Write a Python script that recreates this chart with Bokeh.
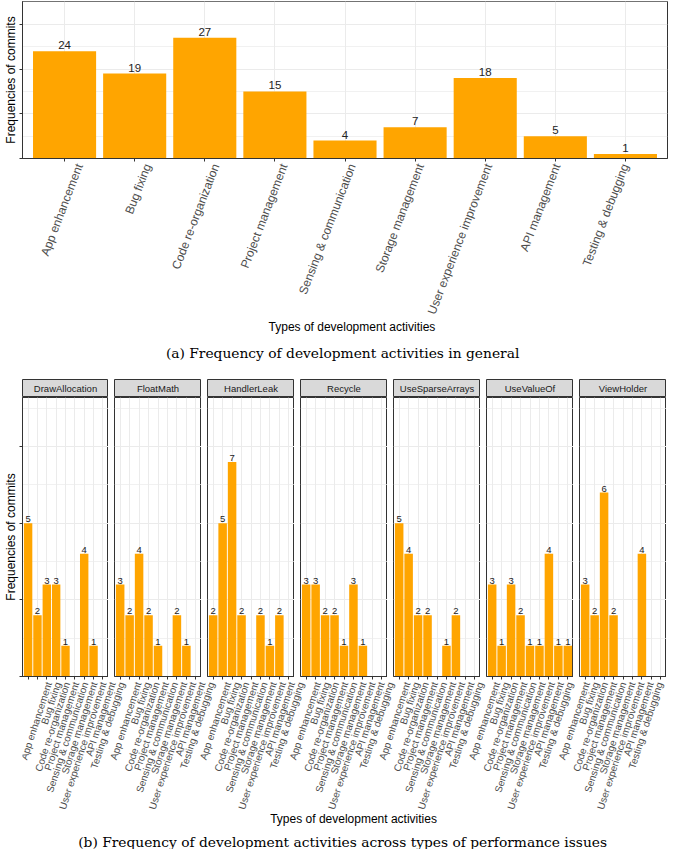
import math
from bokeh.plotting import figure
from bokeh.models import Range1d, FixedTicker, ColumnDataSource
from bokeh.layouts import column, row
from bokeh.embed import file_html
from bokeh.resources import INLINE
from bokeh.core.properties import value

# ---------------- data ----------------
categories = ["App enhancement", "Bug fixing", "Code re-organization", "Project management",
              "Sensing & communication", "Storage management", "User experience improvement",
              "API management", "Testing & debugging"]
general_counts = [24, 19, 27, 15, 4, 7, 18, 5, 1]

issue_types = ["DrawAllocation", "FloatMath", "HandlerLeak", "Recycle",
               "UseSparseArrays", "UseValueOf", "ViewHolder"]
draw_allocation = [5, 2, 3, 3, 1, 0, 4, 1, 0]
float_math = [3, 2, 4, 2, 1, 0, 2, 1, 0]
handler_leak = [2, 5, 7, 2, 0, 2, 1, 2, 0]
recycle = [3, 3, 2, 2, 1, 3, 1, 0, 0]
use_sparse_arrays = [5, 4, 2, 2, 0, 1, 2, 0, 0]
use_value_of = [3, 1, 3, 2, 1, 1, 4, 1, 1]
view_holder = [3, 2, 6, 2, 0, 0, 4, 0, 0]
facet_counts = [draw_allocation, float_math, handler_leak, recycle,
                use_sparse_arrays, use_value_of, view_holder]

caption_a = "(a) Frequency of development activities in general"
caption_b = "(b) Frequency of development activities across types of performance issues"
x_title = "Types of development activities"
y_title = "Frequencies of commits"

# ---------------- style / layout constants ----------------
ORANGE = "#FFA500"
GRID = "#EBEBEB"
DARK = "#333333"
TICK_TXT = "#4D4D4D"
SANS = "Liberation Sans"
SERIF = "DejaVu Serif"
CAPTION_SIZE = "13.8px"
TOTAL_W = 669
TOTAL_H = 849
X_LO, X_HI = 0.4, 9.6
positions = list(range(1, len(categories) + 1))


def bar_source(counts):
    xs = [positions[i] for i, v in enumerate(counts) if v > 0]
    ys = [v for v in counts if v > 0]
    return ColumnDataSource(dict(x=xs, top=ys, label=[str(v) for v in ys]))


def style_axes(p, ymajor, yminor, show_y):
    p.xaxis.ticker = FixedTicker(ticks=positions)
    p.xaxis.major_label_text_color = None
    p.xaxis.major_label_text_font_size = "1px"
    p.xaxis.major_label_standoff = 0
    p.xaxis.minor_tick_line_color = None
    p.xaxis.major_tick_in = 0
    p.xaxis.major_tick_out = 3
    p.xaxis.axis_line_color = DARK
    p.xaxis.major_tick_line_color = DARK
    p.xgrid.ticker = FixedTicker(ticks=positions)
    p.xgrid.grid_line_color = GRID
    p.ygrid.ticker = FixedTicker(ticks=ymajor, minor_ticks=yminor)
    p.ygrid.grid_line_color = GRID
    p.ygrid.minor_grid_line_color = GRID
    p.ygrid.minor_grid_line_width = 0.7
    p.yaxis.ticker = FixedTicker(ticks=ymajor)
    p.yaxis.minor_tick_line_color = None
    p.yaxis.major_label_text_color = None
    p.yaxis.major_label_text_font_size = "1px"
    p.yaxis.major_label_standoff = 0
    p.yaxis.major_tick_in = 0
    p.yaxis.major_tick_out = 3
    p.yaxis.axis_line_color = DARK
    p.yaxis.major_tick_line_color = DARK
    if show_y:
        p.yaxis.axis_label = y_title
        p.yaxis.axis_label_text_font = SANS
        p.yaxis.axis_label_text_font_size = "12px"
        p.yaxis.axis_label_text_font_style = "normal"
        p.yaxis.axis_label_text_color = "black"
        p.yaxis.axis_label_standoff = 2
    else:
        p.yaxis.visible = False
    p.outline_line_color = DARK
    p.outline_line_width = 1
    p.background_fill_color = "white"


def blank_fig(width, height):
    f = figure(width=width, height=height, x_range=Range1d(0, width), y_range=Range1d(-height, 0),
               output_backend="svg", toolbar_location=None,
               min_border_left=0, min_border_right=0, min_border_top=0, min_border_bottom=0)
    f.axis.visible = False
    f.grid.visible = False
    f.outline_line_color = None
    return f


def add_text(f, x, y, txt, font, size, color="black"):
    f.text(x=[x], y=[y], text=[txt], text_align="center", text_baseline="middle",
           text_font=value(font), text_font_size=size, text_color=color)


def add_tick_labels(f, frame_lefts, frame_w, y, angle, size):
    lx, lt = [], []
    for fl in frame_lefts:
        for pos, cat in zip(positions, categories):
            lx.append(fl + (pos - X_LO) / (X_HI - X_LO) * frame_w + 0.5)
            lt.append(cat)
    f.text(x=lx, y=[y] * len(lx), text=lt, angle=math.radians(angle),
           text_align="right", text_baseline="middle", text_font=value(SANS),
           text_font_size=size, text_color=TICK_TXT)


# ---------------- top chart (a) ----------------
TOP_LEFT = 16
TOP_FRAME_W = 651
TOP_FRAME_H = 157
AXIS_PAD = 4
top_h = 1 + TOP_FRAME_H + AXIS_PAD
top = figure(width=TOTAL_W, height=top_h, x_range=Range1d(X_LO, X_HI), y_range=Range1d(0, 35.1),
             output_backend="svg", toolbar_location=None,
             min_border_left=TOP_LEFT, min_border_right=TOTAL_W - TOP_LEFT - TOP_FRAME_W,
             min_border_top=1, min_border_bottom=AXIS_PAD)
src = bar_source(general_counts)
top.vbar(x="x", top="top", width=0.9, source=src, fill_color=ORANGE, line_color=None)
top.text(x="x", y="top", text="label", source=src, text_align="center",
         text_baseline="bottom", y_offset=-2, text_font=value(SANS),
         text_font_size="11.5px", text_color="#222222")
style_axes(top, [0, 10, 20, 30], [5, 15, 25, 35], True)

STRIP_TOP = 378
FA_H = STRIP_TOP - top_h
footer_a = blank_fig(TOTAL_W, FA_H)
add_tick_labels(footer_a, [TOP_LEFT], TOP_FRAME_W, -1.8, 69, "12px")
add_text(footer_a, 341.7, -(326.6 - top_h), x_title, SANS, "12px")
add_text(footer_a, 332, -(352.4 - top_h), caption_a, SERIF, CAPTION_SIZE)

# ---------------- facets (b) ----------------
FRAME_W = 87
FRAME_H = 279
STRIP_H = 19
GAP = 6
FIRST_LEFT = 21
cols = []
for i, (name, counts) in enumerate(zip(issue_types, facet_counts)):
    left = FIRST_LEFT if i == 0 else GAP
    strip = figure(width=left + FRAME_W, height=STRIP_H, x_range=Range1d(0, 1), y_range=Range1d(0, 1),
                   output_backend="svg", toolbar_location=None,
                   min_border_left=left, min_border_right=0, min_border_top=1, min_border_bottom=0)
    strip.axis.visible = False
    strip.grid.visible = False
    strip.background_fill_color = "#D9D9D9"
    strip.outline_line_color = DARK
    strip.text(x=[0.5], y=[0.5], text=[name], text_align="center", text_baseline="middle",
               text_font=value(SANS), text_font_size="9.5px", text_color="#1A1A1A")

    p = figure(width=left + FRAME_W, height=FRAME_H + AXIS_PAD,
               x_range=Range1d(X_LO, X_HI), y_range=Range1d(0, 9.1),
               output_backend="svg", toolbar_location=None,
               min_border_left=left, min_border_right=0, min_border_top=0,
               min_border_bottom=AXIS_PAD)
    s = bar_source(counts)
    p.vbar(x="x", top="top", width=0.9, source=s, fill_color=ORANGE, line_color=None)
    p.text(x="x", y="top", text="label", source=s, text_align="center",
           text_baseline="bottom", y_offset=-1, text_font=value(SANS),
           text_font_size="9.5px", text_color="#222222")
    style_axes(p, [0, 2.5, 5, 7.5], [1.25, 3.75, 6.25, 8.75], i == 0)
    cols.append(column(strip, p))

facets = row(*cols)

used_h = STRIP_TOP + STRIP_H + FRAME_H + AXIS_PAD
FB_H = TOTAL_H - used_h
footer_b = blank_fig(TOTAL_W, FB_H)
frame_lefts = [FIRST_LEFT + k * (GAP + FRAME_W) for k in range(len(issue_types))]
add_tick_labels(footer_b, frame_lefts, FRAME_W, -1.8, 72, "10px")
add_text(footer_b, 343.4, -(818.6 - used_h), x_title, SANS, "12px")
add_text(footer_b, 332, -(841 - used_h), caption_b, SERIF, CAPTION_SIZE)

layout = column(top, footer_a, facets, footer_b)

open("out.html", "w").write(file_html(layout, INLINE))
